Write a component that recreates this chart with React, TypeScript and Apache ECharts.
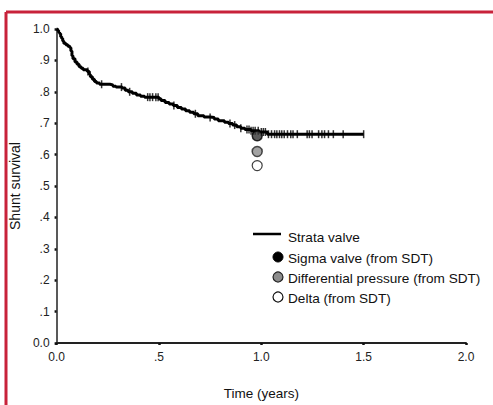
import React, { useEffect, useRef } from "react";
import * as echarts from "echarts";

// Kaplan-Meier steps for Strata valve (time in years, survival)
const stepTimes = [
  0, 0.005, 0.01, 0.015, 0.02, 0.025, 0.03, 0.035, 0.045, 0.055, 0.065, 0.07, 0.075, 0.08, 0.09,
  0.1, 0.11, 0.12, 0.13, 0.15, 0.16, 0.165, 0.175, 0.185, 0.195, 0.21, 0.26, 0.275, 0.29, 0.32,
  0.335, 0.35, 0.37, 0.39, 0.41, 0.43, 0.5, 0.51, 0.53, 0.55, 0.57, 0.59, 0.61, 0.63, 0.65, 0.67,
  0.69, 0.72, 0.75, 0.77, 0.79, 0.82, 0.84, 0.86, 0.88, 0.9, 0.92, 0.95, 0.99, 1.03, 1.5,
];
const stepSurvival = [
  1.0, 0.995, 0.99, 0.985, 0.975, 0.97, 0.962, 0.955, 0.95, 0.945, 0.94, 0.93, 0.915, 0.905, 0.895,
  0.888, 0.88, 0.875, 0.87, 0.865, 0.855, 0.848, 0.84, 0.833, 0.828, 0.824, 0.822, 0.818, 0.815, 0.812,
  0.805, 0.8, 0.795, 0.79, 0.786, 0.783, 0.778, 0.772, 0.766, 0.761, 0.756, 0.75, 0.745, 0.74, 0.735, 0.73,
  0.724, 0.72, 0.718, 0.713, 0.708, 0.703, 0.699, 0.694, 0.689, 0.684, 0.68, 0.676, 0.672, 0.665, 0.665,
];
// Censored observations (times)
const censorTimes = [
  0.153, 0.22, 0.317, 0.357, 0.445, 0.456, 0.469, 0.485, 0.496, 0.573, 0.678, 0.75, 0.847, 0.87, 0.9,
  0.93, 0.94, 0.95, 0.96, 0.97, 0.985, 1.0, 1.01, 1.02, 1.035, 1.05, 1.065, 1.076, 1.089, 1.1, 1.112,
  1.128, 1.144, 1.155, 1.176, 1.224, 1.235, 1.248, 1.28, 1.296, 1.309, 1.328, 1.352, 1.4, 1.5,
];
// Comparison points (from SDT)
const sigmaPoint = [0.98, 0.66];
const diffPressurePoint = [0.98, 0.61];
const deltaPoint = [0.98, 0.565];

const seriesNames = [
  "Strata valve",
  "Sigma valve (from SDT)",
  "Differential pressure (from SDT)",
  "Delta (from SDT)",
];

const yTickLabels: Record<string, string> = {
  "0": "0.0", "0.1": ".1", "0.2": ".2", "0.3": ".3", "0.4": ".4", "0.5": ".5",
  "0.6": ".6", "0.7": ".7", "0.8": ".8", "0.9": ".9", "1": "1.0",
};
const xTickLabels: Record<string, string> = {
  "0": "0.0", "0.5": ".5", "1": "1.0", "1.5": "1.5", "2": "2.0",
};

function survivalAt(t: number): number {
  let s = stepSurvival[0];
  for (let i = 0; i < stepTimes.length; i++) {
    if (stepTimes[i] <= t) s = stepSurvival[i];
  }
  return s;
}

export default function App() {
  const ref = useRef<HTMLDivElement>(null);
  useEffect(() => {
    document.body.style.margin = "0";
    const chart = echarts.init(ref.current!, undefined, { renderer: "svg" });
    const font = "Liberation Sans, Arial, sans-serif";
    const red = "#c8223a";
    const legendX = 253;
    const legendTextX = 288;
    const legendY = [236, 257, 277, 297];
    chart.setOption({
      animation: false,
      backgroundColor: "#ffffff",
      grid: { left: 51, right: 27, top: 29, bottom: 57 },
      xAxis: {
        type: "value",
        min: 0,
        max: 2,
        interval: 0.5,
        name: "Time (years)",
        nameLocation: "middle",
        nameGap: 43,
        nameTextStyle: { fontFamily: font, fontSize: 13.5, color: "#111" },
        axisLine: { show: true, onZero: false, lineStyle: { color: "#222", width: 2 } },
        axisTick: { show: true, length: 2, lineStyle: { color: "#111", width: 2.5 } },
        axisLabel: {
          fontFamily: font, fontSize: 12, color: "#222", margin: 8,
          formatter: (v: number) => xTickLabels[String(v)] ?? String(v),
        },
        splitLine: { show: false },
      },
      yAxis: {
        type: "value",
        min: 0,
        max: 1,
        interval: 0.1,
        name: "Shunt survival",
        nameLocation: "middle",
        nameGap: 28,
        nameRotate: 90,
        nameTextStyle: { fontFamily: font, fontSize: 14, color: "#111" },
        axisLine: { show: true, onZero: false, lineStyle: { color: "#222", width: 1.5 } },
        axisTick: { show: true, length: 2, lineStyle: { color: "#111", width: 2.5 } },
        axisLabel: {
          fontFamily: font, fontSize: 12, color: "#222", margin: 7,
          formatter: (v: number) => yTickLabels[String(Math.round(v * 10) / 10)] ?? String(v),
        },
        splitLine: { show: false },
      },
      series: [
        {
          name: seriesNames[0],
          type: "line",
          step: "end",
          showSymbol: false,
          data: stepTimes.map((t, i) => [t, stepSurvival[i]]),
          lineStyle: { color: "#000", width: 3 },
          z: 3,
        },
        {
          name: seriesNames[0] + " censored",
          type: "scatter",
          symbol: "rect",
          symbolSize: [1.5, 8],
          data: censorTimes.map((t) => [t, survivalAt(t)]),
          itemStyle: { color: "#000" },
          z: 4,
        },
        {
          name: seriesNames[1],
          type: "scatter",
          symbol: "circle",
          symbolSize: 10,
          data: [sigmaPoint],
          itemStyle: { color: "#333", borderColor: "#000", borderWidth: 1.5 },
          z: 5,
        },
        {
          name: seriesNames[2],
          type: "scatter",
          symbol: "circle",
          symbolSize: 10,
          data: [diffPressurePoint],
          itemStyle: { color: "#8c8c8c", borderColor: "#222", borderWidth: 1.5 },
          z: 5,
        },
        {
          name: seriesNames[3],
          type: "scatter",
          symbol: "circle",
          symbolSize: 10,
          data: [deltaPoint],
          itemStyle: { color: "#fff", borderColor: "#111", borderWidth: 1.2 },
          z: 5,
        },
      ],
      graphic: [
        { type: "line", shape: { x1: 6, y1: 12, x2: 493, y2: 12 }, style: { stroke: red, lineWidth: 3 } },
        { type: "line", shape: { x1: 6, y1: 12, x2: 6, y2: 405 }, style: { stroke: red, lineWidth: 3 } },
        { type: "line", shape: { x1: legendX, y1: legendY[0] - 2, x2: legendX + 28, y2: legendY[0] - 2 }, style: { stroke: "#000", lineWidth: 2.5 } },
        { type: "circle", shape: { cx: 278, cy: legendY[1], r: 5 }, style: { fill: "#000", stroke: "#000", lineWidth: 1 } },
        { type: "circle", shape: { cx: 278, cy: legendY[2], r: 5 }, style: { fill: "#8c8c8c", stroke: "#222", lineWidth: 1.2 } },
        { type: "circle", shape: { cx: 278, cy: legendY[3], r: 5 }, style: { fill: "#fff", stroke: "#111", lineWidth: 1.2 } },
        ...seriesNames.map((n, i) => ({
          type: "text",
          x: legendTextX,
          y: legendY[i] + 1,
          style: { text: n, fontFamily: font, fontSize: 13.6, fill: "#111", verticalAlign: "middle" },
        })),
      ],
    });
    return () => chart.dispose();
  }, []);
  return <div ref={ref} style={{ width: 493, height: 405 }} />;
}
